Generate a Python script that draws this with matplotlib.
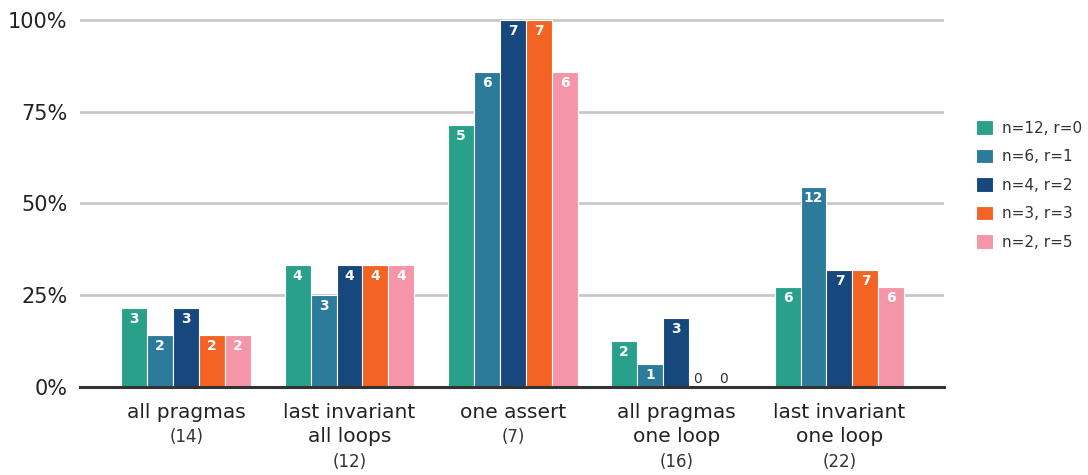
import numpy as np
import matplotlib
matplotlib.use("Agg")
import matplotlib.pyplot as plt

# data
categories = ["all pragmas", "last invariant\nall loops", "one assert",
              "all pragmas\none loop", "last invariant\none loop"]
totals = [14, 12, 7, 16, 22]
series_names = ["n=12, r=0", "n=6, r=1", "n=4, r=2", "n=3, r=3", "n=2, r=5"]
counts = [
    [3, 4, 5, 2, 6],
    [2, 3, 6, 1, 12],
    [3, 4, 7, 3, 7],
    [2, 4, 7, 0, 7],
    [2, 4, 6, 0, 6],
]
colors = ["#28a08a", "#2d7b9b", "#16477d", "#f26324", "#f495a8"]

W, H = 1088, 475
fig = plt.figure(figsize=(W / 100, H / 100), dpi=100)
ax = fig.add_axes([80 / W, 1 - 387 / H, 864 / W, (387 - 16.3) / H])

x = np.arange(len(categories))
bw = 0.159
for k, (name, cnt) in enumerate(zip(series_names, counts)):
    vals = np.array(cnt) / np.array(totals)
    xs = x + (k - 2) * bw
    ax.bar(xs, vals, bw, color=colors[k], edgecolor="white", linewidth=0.8,
           label=name, zorder=3)
    for xi, v, c in zip(xs, vals, cnt):
        if c == 0:
            # zero counts sit just above the baseline
            ax.annotate(str(c), (xi - 0.03, 0), xytext=(0, 8), textcoords="offset pixels",
                        ha="center", va="center", fontsize=10, color="#333333", zorder=4)
        else:
            ax.annotate(str(c), (xi, v), xytext=(0, -11), textcoords="offset pixels",
                        ha="center", va="center", fontsize=10, color="white",
                        fontweight="bold", zorder=4)

ax.set_xlim(-0.65, 4.64)
ax.set_ylim(0, 1.01)
ax.set_yticks([0, 0.25, 0.5, 0.75, 1.0])
ax.set_yticklabels(["0%", "25%", "50%", "75%", "100%"], fontsize=15, color="#222222")
ax.tick_params(axis="y", length=0, pad=9)
ax.set_xticks([])
ax.grid(axis="y", color="#c8c8c8", linewidth=2, zorder=0)
for s in ["top", "right", "left"]:
    ax.spines[s].set_visible(False)
ax.spines["bottom"].set_color("#333333")
ax.spines["bottom"].set_linewidth(2.2)
ax.spines["bottom"].set_zorder(5)

# category labels with totals underneath
for xi, name, tot in zip(x, categories, totals):
    n = name.count("\n") + 1
    ax.annotate(name, (xi, 0), xycoords=("data", "axes fraction"),
                xytext=(0, -16), textcoords="offset pixels", ha="center", va="top",
                fontsize=14.5, color="#222222", linespacing=1.3)
    ax.annotate("(%d)" % tot, (xi, 0), xycoords=("data", "axes fraction"),
                xytext=(0, -26 - 24.5 * n), textcoords="offset pixels",
                ha="center", va="center", fontsize=12, color="#333333")

leg = fig.legend(loc="center left", bbox_to_anchor=(962 / W, 1 - 185 / H),
                 frameon=False, fontsize=11, handlelength=1.1, handleheight=1.1,
                 labelspacing=0.85, handletextpad=0.6)
for t in leg.get_texts():
    t.set_color("#333333")

fig.savefig("out.png", dpi=100)
